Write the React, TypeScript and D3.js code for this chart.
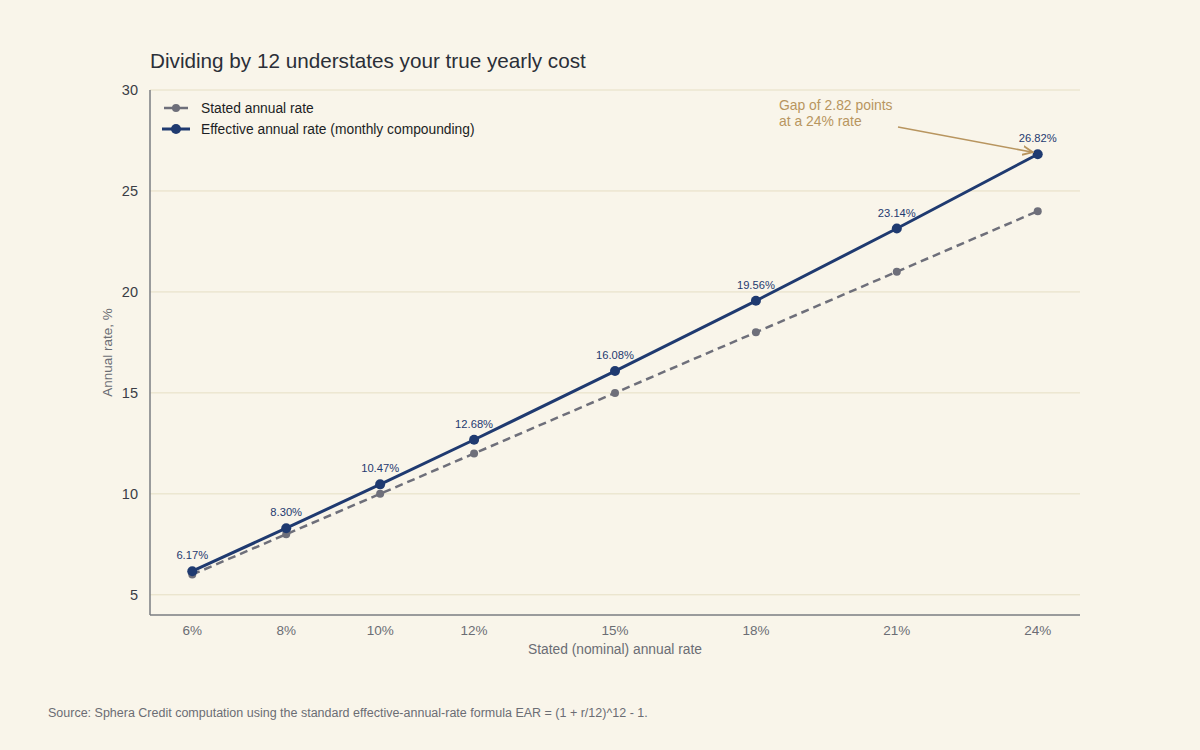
import React from 'react';
import * as d3 from 'd3';

const statedRates = [6, 8, 10, 12, 15, 18, 21, 24];
const effectiveRates = [6.17, 8.30, 10.47, 12.68, 16.08, 19.56, 23.14, 26.82];
const yTicks = [5, 10, 15, 20, 25, 30];

const W = 1200;
const H = 750;
const margin = { top: 90, right: 120, bottom: 135, left: 150 };
const FONT = '"Liberation Sans", Arial, sans-serif';
const BG = '#f9f5ea';
const NAVY = '#1f3a70';
const GREY = '#6e6f7a';
const GOLD = '#b8955f';

const App = () => {
  const x = d3.scaleLinear().domain([5.1, 24.9]).range([margin.left, W - margin.right]);
  const y = d3.scaleLinear().domain([4, 30]).range([H - margin.bottom, margin.top]);

  const statedPts = statedRates.map((r) => [r, r] as [number, number]);
  const effPts = statedRates.map((r, i) => [r, effectiveRates[i]] as [number, number]);
  const line = d3.line<[number, number]>().x((d) => x(d[0])).y((d) => y(d[1]));

  const x0 = x.range()[0];
  const x1 = x.range()[1];
  const yb = y.range()[0];
  const lastX = x(statedRates[statedRates.length - 1]);
  const lastY = y(effectiveRates[effectiveRates.length - 1]);

  return (
    <svg width={W} height={H} style={{ display: 'block', position: 'absolute', left: 0, top: 0, background: BG }} fontFamily={FONT}>
      <defs>
        <marker id="arr" viewBox="0 0 10 10" refX="9" refY="5" markerWidth="7" markerHeight="7" orient="auto">
          <path d="M0,1 L9,5 L0,9" fill="none" stroke={GOLD} strokeWidth="1.6" />
        </marker>
      </defs>
      <rect width={W} height={H} fill={BG} />
      <text x={150} y={68} fontSize={20.7} fill="#2b2f38">Dividing by 12 understates your true yearly cost</text>

      {yTicks.map((t) => (
        <g key={t}>
          <line x1={x0} x2={x1} y1={y(t)} y2={y(t)} stroke="#e6dfc4" strokeWidth={1} />
          <text x={x0 - 12} y={y(t)} dy="0.35em" textAnchor="end" fontSize={14.5} fill="#3a3d45">{t}</text>
        </g>
      ))}
      <line x1={x0} x2={x0} y1={margin.top} y2={yb} stroke="#7a7c82" strokeWidth={1.5} />
      <line x1={x0} x2={x1} y1={yb} y2={yb} stroke="#7a7c82" strokeWidth={1.5} />
      {statedRates.map((r) => (
        <text key={r} x={x(r)} y={yb + 20} textAnchor="middle" fontSize={13.5} fill="#6b6d74">{`${r}%`}</text>
      ))}
      <text x={(x0 + x1) / 2} y={yb + 39} textAnchor="middle" fontSize={13.8} fill="#6b6d74">Stated (nominal) annual rate</text>
      <text transform={`translate(112,${(margin.top + yb) / 2}) rotate(-90)`} textAnchor="middle" fontSize={13.5} fill="#6b6d74">Annual rate, %</text>

      <path d={line(statedPts) || ''} fill="none" stroke={GREY} strokeWidth={2.5} strokeDasharray="8 5" />
      {statedPts.map((d, i) => (
        <circle key={i} cx={x(d[0])} cy={y(d[1])} r={4} fill={GREY} />
      ))}
      <path d={line(effPts) || ''} fill="none" stroke={NAVY} strokeWidth={3} />
      {effPts.map((d, i) => (
        <g key={i}>
          <circle cx={x(d[0])} cy={y(d[1])} r={5} fill={NAVY} />
          <text x={x(d[0])} y={y(d[1]) - 12} textAnchor="middle" fontSize={11.2} fill={NAVY}>{`${d[1].toFixed(2)}%`}</text>
        </g>
      ))}

      <g>
        <line x1={164} x2={188} y1={108} y2={108} stroke={GREY} strokeWidth={2.5} />
        <circle cx={176} cy={108} r={4} fill={GREY} />
        <text x={201} y={108} dy="0.35em" fontSize={13.8} fill="#1c1e24">Stated annual rate</text>
        <line x1={162} x2={190} y1={129} y2={129} stroke={NAVY} strokeWidth={3} />
        <circle cx={176} cy={129} r={5} fill={NAVY} />
        <text x={201} y={129} dy="0.35em" fontSize={13.8} fill="#1c1e24">Effective annual rate (monthly compounding)</text>
      </g>

      <text x={779} y={110} fontSize={13.9} fill={GOLD}>
        <tspan x={779}>Gap of 2.82 points</tspan>
        <tspan x={779} dy={16}>at a 24% rate</tspan>
      </text>
      <line x1={898} y1={127} x2={lastX - 5} y2={lastY - 2} stroke={GOLD} strokeWidth={1.6} markerEnd="url(#arr)" />

      <text x={48} y={717} fontSize={12.5} fill="#6b6d74">Source: Sphera Credit computation using the standard effective-annual-rate formula EAR = (1 + r/12)^12 - 1.</text>
    </svg>
  );
};

export default App;
